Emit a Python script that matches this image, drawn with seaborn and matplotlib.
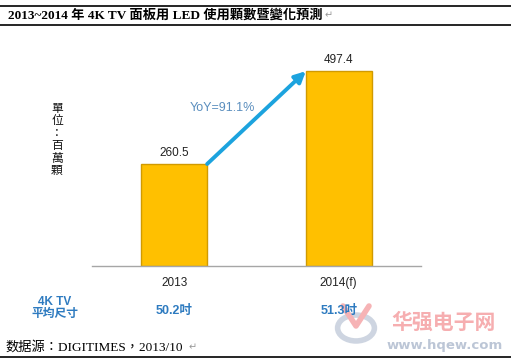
import matplotlib
matplotlib.use("Agg")
import matplotlib.pyplot as plt
import seaborn as sns
import pandas as pd
from matplotlib.patches import Circle

# ---- data ----
years = ["2013", "2014(f)"]
led_counts = [260.5, 497.4]
avg_sizes = ["50.2吋", "51.3吋"]
yoy_label = "YoY=91.1%"
title = "2013~2014 年 4K TV 面板用 LED 使用顆數暨變化預測"
unit_label = "單位：百萬顆"
size_row_label = "4K TV\n平均尺寸"
source = "数据源：DIGITIMES，2013/10"

sns.set_theme(style="white")
CJK_SANS = ["Liberation Sans", "Noto Sans CJK TC", "DejaVu Sans"]
CJK_SERIF = ["Liberation Serif", "Noto Sans CJK TC", "DejaVu Sans"]
plt.rcParams["font.family"] = CJK_SANS

fig = plt.figure(figsize=(5.11, 3.60), dpi=100)
ax = fig.add_axes([92 / 511, 1 - 266 / 360, 329 / 511, 235 / 360])

df = pd.DataFrame({"year": years, "count": led_counts})
sns.barplot(data=df, x="year", y="count", ax=ax, width=0.4,
            color="#FFC000", edgecolor="#D19A00", linewidth=1.0, saturation=1)

ax.set_xlim(-0.5, 1.5)
ax.set_ylim(0, 600)
ax.set_xlabel("")
ax.set_ylabel("")
ax.set_yticks([])
for s in ["top", "right", "left"]:
    ax.spines[s].set_visible(False)
ax.spines["bottom"].set_color("#A6A6A6")
ax.spines["bottom"].set_linewidth(1.0)
ax.tick_params(axis="x", length=0, pad=8, labelsize=8.5, colors="#222222")

# value labels
for i, v in enumerate(led_counts):
    ax.text(i, v + 12, f"{v}", ha="center", va="bottom", fontsize=8.5, color="#222222")

# arrow from bar 1 top-right to bar 2 top-left
ax.annotate("", xy=(1 - 0.2, led_counts[1]), xytext=(0 + 0.2, led_counts[0]),
            arrowprops=dict(arrowstyle="-|>", color="#1CA3DE", lw=2.8,
                            mutation_scale=16, shrinkA=0, shrinkB=0))
fig.text(222 / 511, 1 - 108 / 360, yoy_label, ha="center", va="center",
         fontsize=9, color="#5A8EBE")

# unit label (vertical stacked)
fig.text(57 / 511, 1 - 140 / 360, "\n".join(unit_label), ha="center", va="center",
         fontsize=8.5, color="#111111", linespacing=1.05)

# avg size row
blue = "#2E7BC0"
fig.text(55 / 511, 1 - 308 / 360, size_row_label, ha="center", va="center",
         fontsize=8.5, color=blue, fontweight="bold", linespacing=1.1)
for i, s in enumerate(avg_sizes):
    xpix = 174.5 + i * 164.5
    fig.text(xpix / 511, 1 - 311 / 360, s, ha="center", va="center",
             fontsize=9, color=blue, fontweight="bold")

# title and rules
fig.add_artist(plt.Line2D([0, 1], [1 - 5.5 / 360, 1 - 5.5 / 360], color="black", lw=1.2))
fig.add_artist(plt.Line2D([0, 1], [1 - 25 / 360, 1 - 25 / 360], color="black", lw=1.2))
fig.text(8 / 511, 1 - 15.5 / 360, title, ha="left", va="center", fontsize=9.5,
         fontweight="bold", family=CJK_SERIF, color="black")
fig.text(325 / 511, 1 - 15.5 / 360, "↵", ha="left", va="center", fontsize=7,
         family=["DejaVu Sans"], color="#999999")

# footer
fig.text(5 / 511, 1 - 347 / 360, source, ha="left", va="center", fontsize=9.5,
         family=CJK_SERIF, color="black")
fig.text(189 / 511, 1 - 347 / 360, "↵", ha="left", va="center", fontsize=7,
         family=["DejaVu Sans"], color="#999999")
fig.add_artist(plt.Line2D([0, 1], [1 - 357 / 360, 1 - 357 / 360], color="black", lw=1.2))

# watermark
fig.text(444 / 511, 1 - 322 / 360, "华强电子网", ha="center", va="center",
         fontsize=15, fontweight="bold", color="#F6AEB0", family=["Noto Sans CJK SC"])
fig.text(445 / 511, 1 - 345 / 360, "www.hqew.com", ha="center", va="center",
         fontsize=9.5, fontweight="bold", color="#BCC6D6", family=["DejaVu Sans"])
ring = Circle((356 / 511, 1 - 328 / 360), 0.036, transform=fig.transFigure,
              fill=False, lw=4, color="#C9D1DE", alpha=0.9)
fig.add_artist(ring)
fig.add_artist(plt.Line2D([343 / 511, 356 / 511, 369 / 511],
                          [1 - 306 / 360, 1 - 326 / 360, 1 - 306 / 360],
                          color="#F6B3B5", lw=4, solid_capstyle="round"))

fig.savefig("out.png", dpi=100)
